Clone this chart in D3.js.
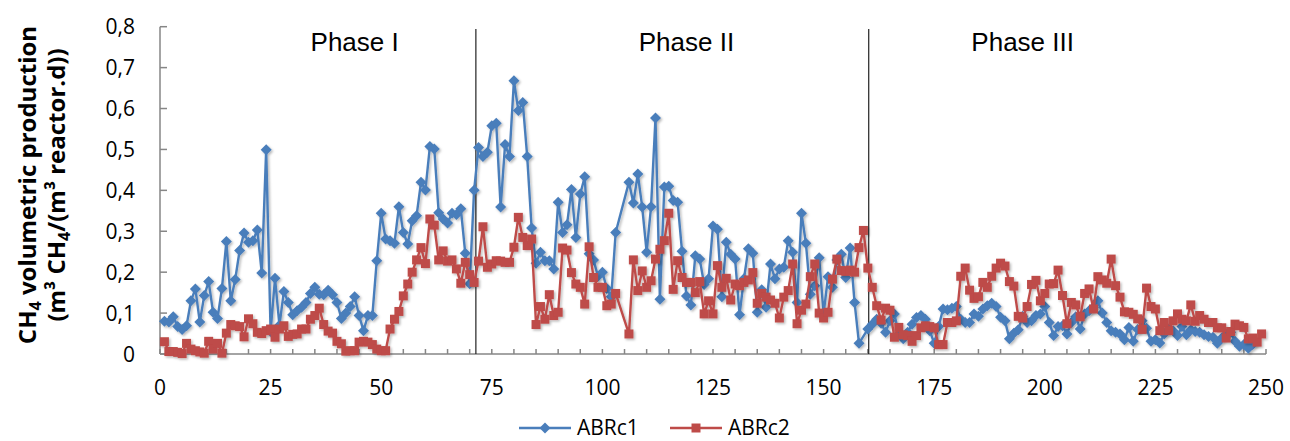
<!DOCTYPE html>
<html><head><meta charset="utf-8">
<script src="https://cdn.jsdelivr.net/npm/d3@7"></script>
<style>body{margin:0;background:#fff}</style>
</head><body><svg id="c" width="1290" height="441"></svg>
<script>
// ---------------- data ----------------
const days = [1,2,3,4,5,6,7,8,9,10,11,12,13,14,15,16,17,18,19,20,21,22,23,24,25,26,27,28,29,30,
31,32,33,34,35,36,37,38,39,40,41,42,43,44,45,46,47,48,49,50,51,52,53,54,55,56,57,58,59,60,
61,62,63,64,65,66,67,68,69,70,71,72,73,74,75,76,77,78,79,80,81,82,83,84,85,86,87,88,89,90,
91,92,93,94,95,96,97,98,99,100,101,102,103,104,105,106,107,108,109,110,111,112,113,114,115,116,117,118,119,120,
121,122,123,124,125,126,127,128,129,130,131,132,133,134,135,136,137,138,139,140,141,142,143,144,145,146,147,148,149,150,
151,152,153,154,155,156,157,158,159,160,161,162,163,164,165,166,167,168,169,170,171,172,173,174,175,176,177,178,179,180,
181,182,183,184,185,186,187,188,189,190,191,192,193,194,195,196,197,198,199,200,201,202,203,204,205,206,207,208,209,210,
211,212,213,214,215,216,217,218,219,220,221,222,223,224,225,226,227,228,229,230,231,232,233,234,235,236,237,238,239,240,
241,242,243,244,245,246,247,248,249];

const abrc1 = [0.080,0.078,0.091,0.067,0.060,0.069,0.130,0.159,0.078,0.143,0.177,0.102,0.087,0.160,0.275,0.130,0.182,0.253,0.296,0.273,
0.277,0.303,0.198,0.499,0.055,0.185,0.070,0.153,0.126,0.096,0.106,0.114,0.126,0.148,0.163,0.146,0.145,0.156,0.145,0.126,
0.087,0.100,0.116,0.140,0.094,0.057,0.094,0.094,0.228,0.344,0.281,0.277,0.271,0.360,0.297,0.269,0.326,0.338,0.420,0.401,
0.507,0.501,0.345,0.330,0.320,0.344,0.341,0.355,0.246,0.172,0.400,0.505,0.483,0.493,0.558,0.564,0.359,0.512,0.483,0.668,
0.595,0.615,0.483,0.308,0.222,0.249,0.228,0.228,0.208,0.371,0.297,0.316,0.402,0.285,0.391,0.433,0.245,0.230,0.190,0.200,
0.160,0.140,0.297,null,null,0.420,0.369,0.440,0.359,0.249,0.360,0.577,0.134,0.408,0.410,0.375,0.371,0.251,0.142,0.120,
0.240,0.232,0.170,0.184,0.313,0.305,0.140,0.273,0.244,0.232,0.096,0.184,0.257,0.246,0.102,0.157,0.114,0.220,0.184,0.208,
0.212,0.277,0.249,0.126,0.344,0.271,0.146,0.167,0.235,0.098,0.189,0.163,0.230,0.244,0.187,0.259,0.126,0.026,null,0.061,
0.073,0.085,0.075,0.053,0.081,0.098,0.049,0.037,0.053,0.073,0.089,0.094,0.085,0.057,0.026,0.067,0.110,0.108,0.112,0.116,
0.085,0.077,0.077,0.098,0.092,0.110,0.118,0.124,0.116,0.090,0.081,0.037,0.051,0.059,0.092,0.077,0.081,0.094,0.098,0.116,
0.077,0.045,0.067,0.069,0.049,0.077,0.091,0.061,0.098,0.106,0.114,0.130,0.100,0.077,0.057,0.053,0.049,0.035,0.065,0.031,
0.060,0.081,0.063,0.031,0.035,0.027,0.049,0.061,0.057,0.045,0.067,0.047,0.059,0.055,0.053,0.047,0.043,0.041,0.026,0.039,
0.049,0.053,0.031,0.019,0.023,0.014,0.023,null,null];

const abrc2 = [0.030,0.006,0.006,0.004,0.001,0.026,0.012,0.008,0.005,0.002,0.031,0.012,0.026,0.002,0.051,0.072,0.069,0.067,0.042,0.086,
0.074,0.053,0.050,0.057,0.061,0.041,0.061,0.069,0.043,0.048,0.049,0.061,0.061,0.085,0.094,0.112,0.072,0.056,0.051,0.031,
0.025,0.007,0.008,0.008,0.029,0.031,0.029,0.023,0.012,0.008,0.008,0.061,0.085,0.104,0.142,0.171,0.200,0.230,0.260,0.221,
0.330,0.315,0.230,0.252,0.227,0.230,0.208,0.173,0.224,0.194,0.175,0.227,0.311,0.212,0.220,0.228,0.227,0.224,0.224,0.261,
0.334,0.285,0.265,0.281,0.072,0.116,0.085,0.145,0.094,0.102,0.259,0.254,0.199,0.171,0.163,0.122,0.262,0.187,0.163,0.163,
0.118,0.122,0.148,null,null,0.049,0.230,0.155,0.203,0.163,0.179,0.232,0.256,0.277,0.344,0.158,0.228,0.187,0.175,0.175,
0.150,0.177,0.098,0.130,0.098,0.216,0.163,0.185,0.132,0.171,0.167,0.175,0.181,0.199,0.124,0.148,0.139,0.132,0.124,0.088,
0.139,0.155,0.220,0.074,0.107,0.122,0.189,0.220,0.100,0.088,0.102,0.183,0.232,0.204,0.202,0.205,0.200,0.260,0.302,0.210,
0.163,0.118,0.083,0.112,0.107,0.041,0.065,0.047,0.045,0.031,0.045,0.064,0.069,0.067,0.064,0.023,0.023,0.077,0.077,0.081,
0.190,0.210,0.156,0.136,0.140,0.175,0.163,0.190,0.210,0.222,0.215,0.177,0.166,0.092,0.088,0.116,0.170,0.180,0.130,0.148,
0.171,0.172,0.205,0.143,0.074,0.126,0.120,0.091,0.148,0.159,0.110,0.189,0.181,0.173,0.232,0.167,0.139,0.103,0.102,0.097,
0.086,0.060,0.161,0.116,0.110,0.057,0.077,0.057,0.081,0.098,0.085,0.081,0.120,0.080,0.094,0.085,0.077,0.077,0.064,0.064,
0.039,0.055,0.073,0.069,0.065,0.037,0.039,0.029,0.049];

const seriesNames = ["ABRc1", "ABRc2"];
const xTicks = [0,25,50,75,100,125,150,175,200,225,250];
const xMinorTicks = [0,5,10,15,20,25,30,35,40,45,50,55,60,65,70,75,80,85,90,95,100,105,110,115,120,125,130,135,140,145,150,155,160,165,170,175,180,185,190,195,200,205,210,215,220,225,230,235,240,245,250];
const yTicks = [0,0.1,0.2,0.3,0.4,0.5,0.6,0.7,0.8];
const phaseNames = ["Phase I","Phase II","Phase III"];
const phaseCenters = [44, 119, 195];
const phaseBounds = [71.4, 160.2];

// ---------------- drawing ----------------
const svg = d3.select("#c");
const blue = "#4a7ebb", red = "#be4b48", axisCol = "#868686";
const x = d3.scaleLinear().domain([0,250]).range([160,1266]);
const y = d3.scaleLinear().domain([0,0.8]).range([354,26.7]);

const defs = svg.append("defs");
const f = defs.append("filter").attr("id","sh").attr("x","-20%").attr("y","-20%").attr("width","140%").attr("height","140%");
f.append("feDropShadow").attr("dx",1.5).attr("dy",1.5).attr("stdDeviation",1.2).attr("flood-color","#000").attr("flood-opacity",0.28);

// axes
const gx = svg.append("g").attr("transform",`translate(0,${y(0)})`);
gx.append("line").attr("x1",x(0)).attr("x2",x(250)).attr("stroke",axisCol).attr("stroke-width",1.5);
gx.selectAll("line.t").data(xMinorTicks).enter().append("line").attr("class","t")
  .attr("x1",d=>x(d)).attr("x2",d=>x(d)).attr("y1",0).attr("y2",-5).attr("stroke",axisCol).attr("stroke-width",1.5);
gx.selectAll("text").data(xTicks).enter().append("text")
  .attr("x",d=>x(d)).attr("y",41).attr("text-anchor","middle")
  .style("font-family","'Open Sans'").style("font-size","21px").attr("fill","#000").text(d=>d);

const gy = svg.append("g").attr("transform","translate(160,0)");
gy.append("line").attr("y1",y(0)).attr("y2",y(0.8)).attr("stroke",axisCol).attr("stroke-width",1.5);
gy.selectAll("line.t").data(yTicks).enter().append("line").attr("class","t")
  .attr("y1",d=>y(d)).attr("y2",d=>y(d)).attr("x1",0).attr("x2",7).attr("stroke",axisCol).attr("stroke-width",1.5);
gy.selectAll("text").data(yTicks).enter().append("text")
  .attr("x",-25).attr("y",d=>y(d)).attr("dy","0.36em").attr("text-anchor","end")
  .style("font-family","'Open Sans'").style("font-size","21px").attr("fill","#000")
  .text(d=>d===0?"0":d.toFixed(1).replace(".",","));

// phase separators and labels
svg.selectAll("line.ph").data(phaseBounds).enter().append("line").attr("class","ph")
  .attr("x1",d=>x(d)).attr("x2",d=>x(d)).attr("y1",29).attr("y2",y(0)).attr("stroke","#222").attr("stroke-width",1.2);
svg.selectAll("text.ph").data(phaseNames).enter().append("text").attr("class","ph")
  .attr("x",(d,i)=>x(phaseCenters[i])).attr("y",51).attr("text-anchor","middle")
  .style("font-family","'Liberation Sans', Arial").style("font-size","26px").attr("fill","#000").text(d=>d);

// series
const diamond = "M0,-5.5L5.5,0L0,5.5L-5.5,0Z";
const square = "M-4.5,-4.5H4.5V4.5H-4.5Z";
function drawSeries(vals, color, shape) {
  const pts = days.map((d,i)=>({d, v: vals[i]})).filter(p=>p.v!==null);
  const g = svg.append("g").attr("filter","url(#sh)");
  g.append("path").datum(pts).attr("fill","none").attr("stroke",color).attr("stroke-width",2.4)
    .attr("stroke-linejoin","round")
    .attr("d", d3.line().x(p=>x(p.d)).y(p=>y(p.v)));
  g.selectAll("path.m").data(pts).enter().append("path").attr("class","m")
    .attr("d",shape).attr("fill",color)
    .attr("transform",p=>`translate(${x(p.d)},${y(p.v)})`);
}
drawSeries(abrc1, blue, diamond);
drawSeries(abrc2, red, square);

// y title
const yt = svg.append("text").attr("transform","translate(28,185) rotate(-90)").attr("text-anchor","middle")
  .attr("dy","0.35em").style("font-family","'Open Sans'").style("font-weight","bold").style("font-size","24px");
yt.append("tspan").text("CH");
yt.append("tspan").text("4").style("font-size","16px").attr("dy","5");
yt.append("tspan").text(" volumetric production").attr("dy","-5");
const yt2 = svg.append("text").attr("transform","translate(57,185) rotate(-90)").attr("text-anchor","middle")
  .attr("dy","0.35em").style("font-family","'Open Sans'").style("font-weight","bold").style("font-size","24px");
yt2.append("tspan").text("(m³ CH");
yt2.append("tspan").text("4").style("font-size","16px").attr("dy","5");
yt2.append("tspan").text("/(m³ reactor.d))").attr("dy","-5");

// legend
const lg = svg.append("g");
const legendItems = [{name:seriesNames[0], color:blue, shape:diamond, x0:519},{name:seriesNames[1], color:red, shape:square, x0:670}];
legendItems.forEach(it=>{
  lg.append("line").attr("x1",it.x0).attr("x2",it.x0+52).attr("y1",428).attr("y2",428).attr("stroke",it.color).attr("stroke-width",2.4);
  lg.append("path").attr("d",it.shape).attr("fill",it.color).attr("transform",`translate(${it.x0+26},428)`);
  lg.append("text").attr("x",it.x0+58).attr("y",427).attr("dy","0.36em")
    .style("font-family","'Open Sans'").style("font-size","21px").text(it.name);
});
</script></body></html>
